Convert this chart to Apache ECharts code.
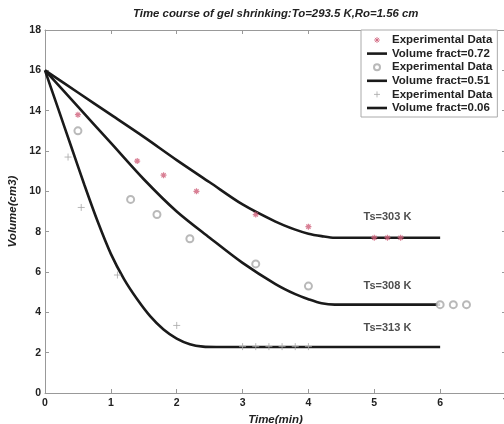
<!DOCTYPE html>
<html>
<head>
<meta charset="utf-8">
<script src="https://cdn.jsdelivr.net/npm/echarts@6/dist/echarts.min.js"></script>
<style>html,body{margin:0;padding:0;background:#fff}#c{width:504px;height:424px}</style>
</head>
<body>
<div id="c"></div>
<script>
// ---- data ----
const xTicks = [0, 1, 2, 3, 4, 5, 6, 7];
const yTicks = [0, 2, 4, 6, 8, 10, 12, 14, 16, 18];
const expT303 = [[0.5,13.8],[1.4,11.5],[1.8,10.8],[2.3,10.0],[3.2,8.85],[4.0,8.25],[5.0,7.7],[5.2,7.7],[5.4,7.7]];
const expT308 = [[0.5,13.0],[1.3,9.6],[1.7,8.85],[2.2,7.65],[3.2,6.4],[4.0,5.3],[6.0,4.38],[6.2,4.38],[6.4,4.38]];
const expT313 = [[0.35,11.7],[0.55,9.2],[1.1,5.85],[2.0,3.35],[3.0,2.3],[3.2,2.3],[3.4,2.3],[3.6,2.3],[3.8,2.3],[4.0,2.3]];
const fit072 = [[0,16],[0.5,14.9],[1,13.8],[1.5,12.7],[2,11.55],[2.5,10.45],[3,9.35],[3.5,8.5],[3.8,8.1],[4.0,7.9],[4.2,7.78],[4.4,7.7],[5,7.7],[6,7.7]];
const fit051 = [[0,16],[0.5,14.2],[1.0,12.4],[1.5,10.6],[2.0,9.0],[2.5,7.7],[3.0,6.45],[3.5,5.4],[3.8,4.9],[4.0,4.65],[4.2,4.45],[4.4,4.38],[5,4.38],[6,4.38]];
const fit006 = [[0,16],[0.2,14.1],[0.4,12.2],[0.6,10.3],[0.8,8.5],[1.0,6.9],[1.2,5.65],[1.4,4.65],[1.6,3.8],[1.8,3.15],[2.0,2.7],[2.2,2.42],[2.4,2.3],[2.6,2.28],[4,2.28],[6,2.28]];
const tempLabels = [[5.2,8.75,'Ts=303 K'],[5.2,5.3,'Ts=308 K'],[5.2,3.22,'Ts=313 K']];
const legendNames = ['Experimental Data','Volume fract=0.72','Experimental Data','Volume fract=0.51','Experimental Data','Volume fract=0.06'];
const titleText = 'Time course of gel shrinking:To=293.5 K,Ro=1.56 cm';

// ---- chart ----
const starPath = 'path://M5,0L5,10M0,5L10,5M1.5,1.5L8.5,8.5M8.5,1.5L1.5,8.5';
const plusPath = 'path://M5,0L5,10M0,5L10,5';
const linePath = 'path://M0,0L20,0L20,2.6L0,2.6Z';
const ids = ['e303','f072','e308','f051','e313','f006'];
const nameMap = {}; ids.forEach((id,i)=>nameMap[id]=legendNames[i]);
const axisColor = '#999';
const lineColor = '#1a1a1a';
const starColor = '#d0607a';
const grayColor = '#a8a8a8';
const lblStyle = {color:'#222', fontSize:10.5, fontWeight:'bold', fontFamily:'Liberation Sans'};
const nameStyle = {fontSize:11.5, fontWeight:'bold', fontStyle:'italic', color:'#222', fontFamily:'Liberation Sans'};
function fitSeries(id, data){
  return {name:id, type:'line', data:data, showSymbol:false, symbol:'none', smooth:0.3,
    lineStyle:{color:lineColor, width:2.6}, itemStyle:{color:lineColor}, z:3, silent:true};
}
const legendIcons = {
  e303:{icon:starPath, itemStyle:{color:'rgba(0,0,0,0)', borderColor:starColor, borderWidth:1}},
  f072:{icon:linePath, itemStyle:{color:lineColor, borderWidth:0}},
  e308:{icon:'emptyCircle', itemStyle:{color:grayColor, borderColor:grayColor, borderWidth:0.8}},
  f051:{icon:linePath, itemStyle:{color:lineColor, borderWidth:0}},
  e313:{icon:plusPath, itemStyle:{color:'rgba(0,0,0,0)', borderColor:grayColor, borderWidth:1}},
  f006:{icon:linePath, itemStyle:{color:lineColor, borderWidth:0}}
};
const chart = echarts.init(document.getElementById('c'));
chart.setOption({
  animation:false,
  backgroundColor:'#fff',
  title:{text:titleText, left:133, top:8, padding:0,
    textStyle:{fontSize:11.4, fontWeight:'bold', fontStyle:'italic', color:'#222', fontFamily:'Liberation Sans'}},
  grid:{left:45, top:30, width:461, height:363, containLabel:false, outerBoundsMode:'none'},
  legend:{orient:'vertical', left:361, top:30, width:138, padding:[4,5,3,6],
    borderColor:'#aaa', borderWidth:1, backgroundColor:'#fff',
    itemWidth:20, itemHeight:6, itemGap:1.6,
    data:ids.map(id=>Object.assign({name:id}, legendIcons[id])),
    formatter:n=>nameMap[n],
    textStyle:{fontSize:11.5, fontWeight:'bold', color:'#222', fontFamily:'Liberation Sans', lineHeight:11.5}},
  xAxis:[
    {type:'value', min:xTicks[0], max:xTicks[xTicks.length-1], interval:1, position:'bottom',
     name:'Time(min)', nameLocation:'middle', nameGap:19, nameTextStyle:nameStyle,
     axisLine:{onZero:false, lineStyle:{color:axisColor}}, axisTick:{inside:true, length:4, lineStyle:{color:axisColor}},
     axisLabel:Object.assign({margin:5}, lblStyle), splitLine:{show:false}},
    {type:'value', min:xTicks[0], max:xTicks[xTicks.length-1], interval:1, position:'top',
     axisLine:{onZero:false, lineStyle:{color:axisColor}}, axisTick:{inside:true, length:4, lineStyle:{color:axisColor}},
     axisLabel:{show:false}, splitLine:{show:false}}
  ],
  yAxis:[
    {type:'value', min:yTicks[0], max:yTicks[yTicks.length-1], interval:2, position:'left',
     name:'Volume(cm3)', nameLocation:'middle', nameGap:22, nameTextStyle:nameStyle,
     axisLine:{show:true, onZero:false, lineStyle:{color:axisColor}}, axisTick:{show:true, inside:true, length:4, lineStyle:{color:axisColor}},
     axisLabel:Object.assign({margin:4}, lblStyle), splitLine:{show:false}},
    {type:'value', min:yTicks[0], max:yTicks[yTicks.length-1], interval:2, position:'right',
     axisLine:{show:true, onZero:false, lineStyle:{color:axisColor}}, axisTick:{show:true, inside:true, length:4, lineStyle:{color:axisColor}},
     axisLabel:{show:false}, splitLine:{show:false}}
  ],
  series:[
    {name:'e303', type:'scatter', data:expT303, symbol:starPath, symbolSize:6, z:4,
     itemStyle:{color:'rgba(0,0,0,0)', borderColor:starColor, borderWidth:1.2}},
    fitSeries('f072', fit072),
    {name:'e308', type:'scatter', data:expT308, symbol:'emptyCircle', symbolSize:7, z:4,
     itemStyle:{color:grayColor, borderColor:grayColor, borderWidth:0.8}},
    fitSeries('f051', fit051),
    {name:'e313', type:'scatter', data:expT313, symbol:plusPath, symbolSize:7, z:4,
     itemStyle:{color:'rgba(0,0,0,0)', borderColor:grayColor, borderWidth:1}},
    fitSeries('f006', fit006),
    {name:'labels', type:'scatter', data:tempLabels, symbolSize:0, silent:true, z:5,
     label:{show:true, position:'inside', formatter:p=>p.value[2], fontSize:11, fontWeight:'bold', color:'#222', fontFamily:'Liberation Sans'}}
  ]
});
</script>
</body>
</html>
